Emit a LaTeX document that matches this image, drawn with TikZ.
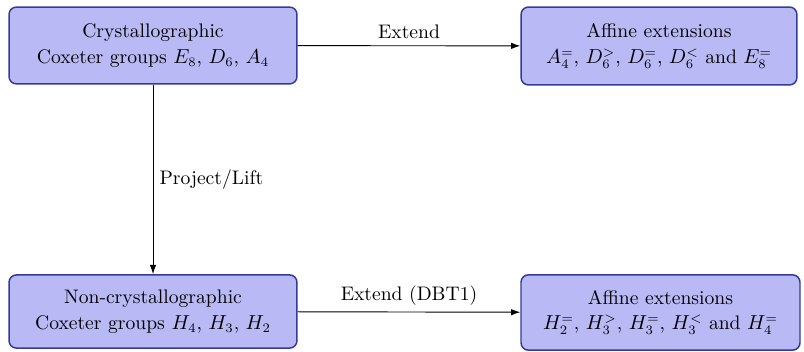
\documentclass[tikz,border=0pt]{standalone}
\usetikzlibrary{arrows.meta}

\definecolor{boxfill}{RGB}{184,185,245}
\definecolor{boxline}{RGB}{52,58,150}

\tikzset{
    groupbox/.style={draw=boxline, fill=boxfill, line width=0.8pt, rounded corners=4pt,
        align=center, inner sep=2pt, font=\fontsize{10.6pt}{14pt}\selectfont},
    conn/.style={-{Latex[length=5pt,width=3.5pt]}, line width=0.5pt},
    connlabel/.style={font=\fontsize{10.6pt}{13pt}\selectfont}
}

\begin{document}
\begin{tikzpicture}[x=0.019cm,y=0.019cm]
    \useasboundingbox (0,0) rectangle (804,352);

    % Boxes
    \node[groupbox, minimum width=5.47cm, minimum height=1.46cm] (cryst) at (153,306.5)
        {Crystallographic\\Coxeter groups $E_8$, $D_6$, $A_4$};
    \node[groupbox, minimum width=5.24cm, minimum height=1.48cm] (affcryst) at (659,306)
        {Affine extensions\\$A_4^=$, $D_6^>$, $D_6^=$, $D_6^<$ and $E_8^=$};
    \node[groupbox, minimum width=5.47cm, minimum height=1.39cm] (noncryst) at (153,40.5)
        {Non-crystallographic\\Coxeter groups $H_4$, $H_3$, $H_2$};
    \node[groupbox, minimum width=5.30cm, minimum height=1.43cm] (affnon) at (660.5,39.5)
        {Affine extensions\\$H_2^=$, $H_3^>$, $H_3^=$, $H_3^<$ and $H_4^=$};

    % Arrows
    \draw[conn] (cryst) -- node[above, connlabel] {Extend} (affcryst);
    \draw[conn] (cryst.south) -- node[right, connlabel] {Project/Lift} (noncryst.north);
    \draw[conn] (noncryst) -- node[above, connlabel] {Extend (DBT1)} (affnon);
\end{tikzpicture}
\end{document}
